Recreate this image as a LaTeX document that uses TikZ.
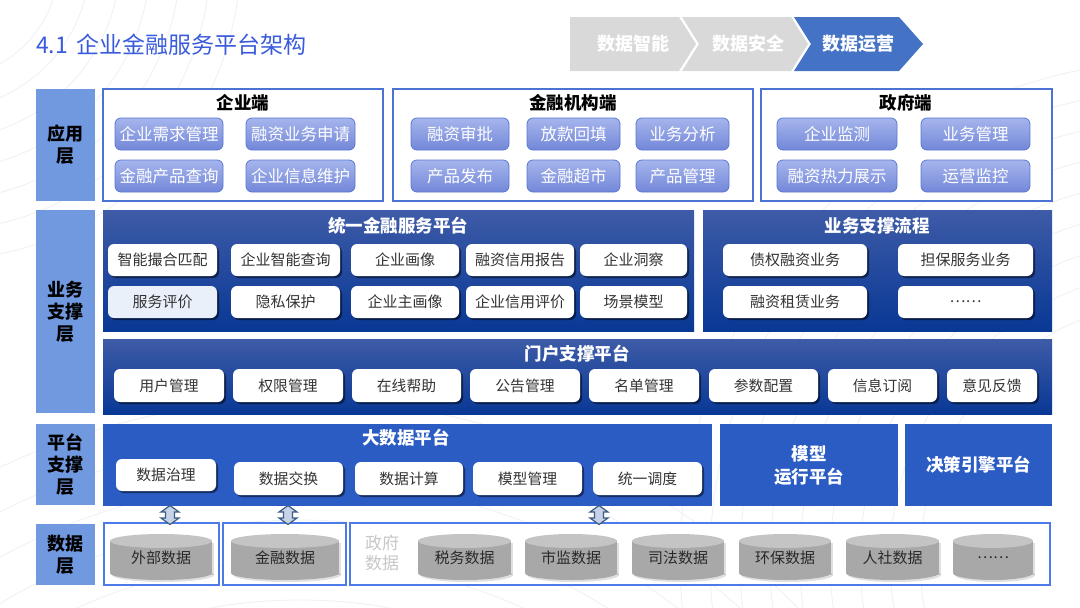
\documentclass[tikz,border=0pt]{standalone}
\usepackage{fontspec}
\setmainfont{Noto Sans CJK SC}
\usetikzlibrary{shadows}
\definecolor{lbl}{HTML}{7099E0}
\definecolor{ttl}{HTML}{3A5CDC}
\definecolor{chev}{HTML}{D9D9D9}
\definecolor{chevb}{HTML}{4472C4}
\definecolor{appb}{HTML}{4A73D3}
\definecolor{pilltop}{HTML}{A6B5ED}
\definecolor{pillbot}{HTML}{7387D8}
\definecolor{pillbd}{HTML}{5A77D2}
\definecolor{dtop}{HTML}{3E5BA7}
\definecolor{dbot}{HTML}{083895}
\definecolor{bigb}{HTML}{2B5CC4}
\definecolor{txtd}{HTML}{333333}
\definecolor{cylb}{HTML}{A8A8A8}
\definecolor{cylt}{HTML}{C4C4C4}
\definecolor{arrf}{HTML}{C6D2E8}
\definecolor{arrd}{HTML}{3E5C82}
\definecolor{govt}{HTML}{C8C8C8}
\definecolor{dbox}{HTML}{4A7BE8}
\definecolor{bgl}{HTML}{EEF0F5}
\definecolor{lightpill}{HTML}{EAF0FA}
\newcommand\mybox[7]{\node[#1,minimum width={#5-#3},minimum height={#6-#4}] (#2) at ({(#3+#5)/2},{(#4+#6)/2}) {#7};}
\newcommand\mycyl[4]{%
  \pgfmathsetmacro\cxa{(#2+#3)/2}\pgfmathsetmacro\rxa{(#3-#2)/2}%
  \fill[black,opacity=0.12] (#2+2,543) rectangle (#3+2,575);
  \fill[black,opacity=0.12] (\cxa+2,575) ellipse [x radius=\rxa pt, y radius=7pt];
  \fill[cylb] (#2,541) rectangle (#3,573);
  \fill[cylb] (\cxa,573) ellipse [x radius=\rxa pt, y radius=7pt];
  \fill[cylt] (\cxa,541) ellipse [x radius=\rxa pt, y radius=7pt];
  \node[cyltxt] (#1) at (\cxa,558) {#4};}
\tikzset{
  base/.style={inner sep=0pt, outer sep=0pt, align=center},
  lblbox/.style={base, fill=lbl, text=black, font=\fontsize{18}{22}\selectfont\bfseries},
  cont/.style={base, draw=appb, line width=1.4pt, fill=white},
  ctitle/.style={base, text=black, font=\fontsize{17.5}{20}\selectfont\bfseries},
  apill/.style={base, rounded corners=6pt, top color=pilltop, bottom color=pillbot, draw=pillbd, line width=0.8pt, text=white, font=\fontsize{16.5}{19}\selectfont},
  dpanel/.style={base, top color=dtop, bottom color=dbot, draw=none},
  ptitle/.style={base, text=white, font=\fontsize{17.5}{22}\selectfont\bfseries},
  wpill/.style={base, rounded corners=6pt, fill=white, text=txtd, font=\fontsize{15}{18}\selectfont, drop shadow={shadow xshift=2pt, shadow yshift=-2pt, opacity=0.5, fill=black}},
  gpill/.style={wpill, font=\fontsize{14.8}{18}\selectfont},
  bigpanel/.style={base, fill=bigb, draw=none},
  dboxs/.style={base, draw=dbox, line width=1.4pt, fill=white},
  cyltxt/.style={base, text=txtd!80!black, font=\fontsize{15}{18}\selectfont},
  chevtxt/.style={base, text=white, font=\fontsize{18}{20}\selectfont\bfseries},
  dblarr/.pic={\draw[fill=arrf, draw=arrd, line width=1.2pt, line join=miter] (0,-9.5) -- (9,-3) -- (4.5,-3) -- (4.5,3) -- (9,3) -- (0,9.5) -- (-9,3) -- (-4.5,3) -- (-4.5,-3) -- (-9,-3) -- cycle;}
}
\begin{document}
\begin{tikzpicture}[x=1pt,y=-1pt]
\useasboundingbox[fill=white] (0,0) rectangle (1080,608);
% faint background lines
\begin{scope}
\clip (0,0) rectangle (1080,608);
\foreach \r in {260,290,...,500} \draw[bgl, line width=0.8pt] (1180,560) circle (\r pt);
\foreach \r in {120,150,...,300} \draw[bgl, line width=0.8pt] (-60,-40) circle (\r pt);
\foreach \r in {500,540,...,700} \draw[bgl, line width=0.8pt] (300,1100) circle (\r pt);
\end{scope}
% title
\node[base, anchor=west, text=ttl, font=\fontsize{23}{26}\selectfont] (title) at (36,45) {4.1\hspace{9pt}企业金融服务平台架构};
% chevrons
\fill[chev] (570,17) -- (679,17) -- (696,44) -- (679,71) -- (570,71) -- cycle;
\fill[chev] (682,17) -- (791,17) -- (808,44) -- (791,71) -- (682,71) -- (699,44) -- cycle;
\fill[chevb] (794,17) -- (899,17) -- (923,44) -- (899,71) -- (794,71) -- (811,44) -- cycle;
\node[chevtxt] (ch1) at (633,44) {数据智能};
\node[chevtxt] (ch2) at (748,44) {数据安全};
\node[chevtxt] (ch3) at (858,44) {数据运营};
% layer labels
\mybox{lblbox}{L1}{36}{89}{95}{201}{应用\\层}
\mybox{lblbox}{L2}{36}{210}{95}{413}{业务\\支撑\\层}
\mybox{lblbox}{L3}{36}{424}{95}{505}{平台\\支撑\\层}
\mybox{lblbox}{L4}{36}{524}{95}{585}{数据\\层}
% application layer
\mybox{cont}{C1}{103}{89}{383}{201}{}
\mybox{cont}{C2}{393}{89}{753}{201}{}
\mybox{cont}{C3}{761}{89}{1052}{201}{}
\node[ctitle] (C1t) at (243,103) {企业端};
\node[ctitle] (C2t) at (573,103) {金融机构端};
\node[ctitle] (C3t) at (906,103) {政府端};
\mybox{apill}{a11}{115}{118}{223}{150}{企业需求管理}
\mybox{apill}{a12}{246}{118}{355}{150}{融资业务申请}
\mybox{apill}{a13}{115}{160}{223}{192}{金融产品查询}
\mybox{apill}{a14}{246}{160}{355}{192}{企业信息维护}
\mybox{apill}{a21}{411}{118}{509}{150}{融资审批}
\mybox{apill}{a22}{527}{118}{620}{150}{放款回填}
\mybox{apill}{a23}{636}{118}{729}{150}{业务分析}
\mybox{apill}{a24}{411}{160}{509}{192}{产品发布}
\mybox{apill}{a25}{527}{160}{620}{192}{金融超市}
\mybox{apill}{a26}{636}{160}{729}{192}{产品管理}
\mybox{apill}{a31}{777}{118}{897}{150}{企业监测}
\mybox{apill}{a32}{921}{118}{1030}{150}{业务管理}
\mybox{apill}{a33}{777}{160}{897}{192}{融资热力展示}
\mybox{apill}{a34}{921}{160}{1030}{192}{运营监控}
% business support layer
\mybox{dpanel}{P1}{103}{210}{694}{331}{}
\mybox{dpanel}{P2}{703}{210}{1052}{331}{}
\mybox{dpanel}{P3}{103}{339}{1052}{414}{}
\node[ptitle] (P1t) at (398,226) {统一金融服务平台};
\node[ptitle] (P2t) at (877,226) {业务支撑流程};
\node[ptitle] (P3t) at (577,354) {门户支撑平台};
\mybox{wpill}{b11}{108}{244}{217}{276}{智能撮合匹配}
\mybox{wpill}{b12}{231}{244}{340}{276}{企业智能查询}
\mybox{wpill}{b13}{351}{244}{459}{276}{企业画像}
\mybox{wpill}{b14}{466}{244}{574}{276}{融资信用报告}
\mybox{wpill}{b15}{580}{244}{687}{276}{企业洞察}
\mybox{wpill,fill=lightpill}{b21}{108}{286}{217}{318}{服务评价}
\mybox{wpill}{b22}{231}{286}{340}{318}{隐私保护}
\mybox{wpill}{b23}{351}{286}{459}{318}{企业主画像}
\mybox{wpill}{b24}{466}{286}{574}{318}{企业信用评价}
\mybox{wpill}{b25}{580}{286}{687}{318}{场景模型}
\mybox{wpill}{c11}{723}{244}{867}{276}{债权融资业务}
\mybox{wpill}{c12}{898}{244}{1033}{276}{担保服务业务}
\mybox{wpill}{c21}{723}{286}{867}{318}{融资租赁业务}
\mybox{wpill}{c22}{898}{286}{1033}{318}{……}
\mybox{gpill}{d1}{114}{369}{224}{402}{用户管理}
\mybox{gpill}{d2}{233}{369}{343}{402}{权限管理}
\mybox{gpill}{d3}{352}{369}{461}{402}{在线帮助}
\mybox{gpill}{d4}{470}{369}{580}{402}{公告管理}
\mybox{gpill}{d5}{589}{369}{699}{402}{名单管理}
\mybox{gpill}{d6}{709}{369}{818}{402}{参数配置}
\mybox{gpill}{d7}{828}{369}{937}{402}{信息订阅}
\mybox{gpill}{d8}{947}{369}{1037}{402}{意见反馈}
% platform support layer
\mybox{bigpanel}{B1}{103}{424}{712}{506}{}
\mybox{bigpanel,text=white,font=\fontsize{17.5}{23}\selectfont\bfseries}{B2}{720}{424}{898}{506}{模型\\运行平台}
\mybox{bigpanel,text=white,font=\fontsize{17.5}{23}\selectfont\bfseries}{B3}{905}{424}{1052}{506}{决策引擎平台}
\node[ptitle] (B1t) at (406,438) {大数据平台};
\mybox{gpill}{e1}{116}{459}{216}{491}{数据治理}
\mybox{gpill}{e2}{234}{462}{343}{495}{数据交换}
\mybox{gpill}{e3}{355}{462}{463}{495}{数据计算}
\mybox{gpill}{e4}{473}{462}{582}{495}{模型管理}
\mybox{gpill}{e5}{593}{462}{702}{495}{统一调度}
% data layer
\mybox{dboxs}{D1}{104}{523}{219}{585}{}
\mybox{dboxs}{D2}{223}{523}{346}{585}{}
\mybox{dboxs}{D3}{350}{523}{1050}{585}{}
\node[base, text=govt, font=\fontsize{17}{20}\selectfont] (gov) at (382,553) {政府\\数据};
\mycyl{f1}{110}{212}{外部数据}
\mycyl{f2}{231}{339}{金融数据}
\mycyl{f3}{418}{511}{税务数据}
\mycyl{f4}{525}{617}{市监数据}
\mycyl{f5}{632}{724}{司法数据}
\mycyl{f6}{739}{831}{环保数据}
\mycyl{f7}{846}{939}{人社数据}
\mycyl{f8}{953}{1033}{……}
% double arrows between platform and data
\coordinate (g1) at (170,515);
\coordinate (g2) at (288,515);
\coordinate (g3) at (599,515);
\pic at (g1) {dblarr};
\pic at (g2) {dblarr};
\pic at (g3) {dblarr};
\end{tikzpicture}
\end{document}
